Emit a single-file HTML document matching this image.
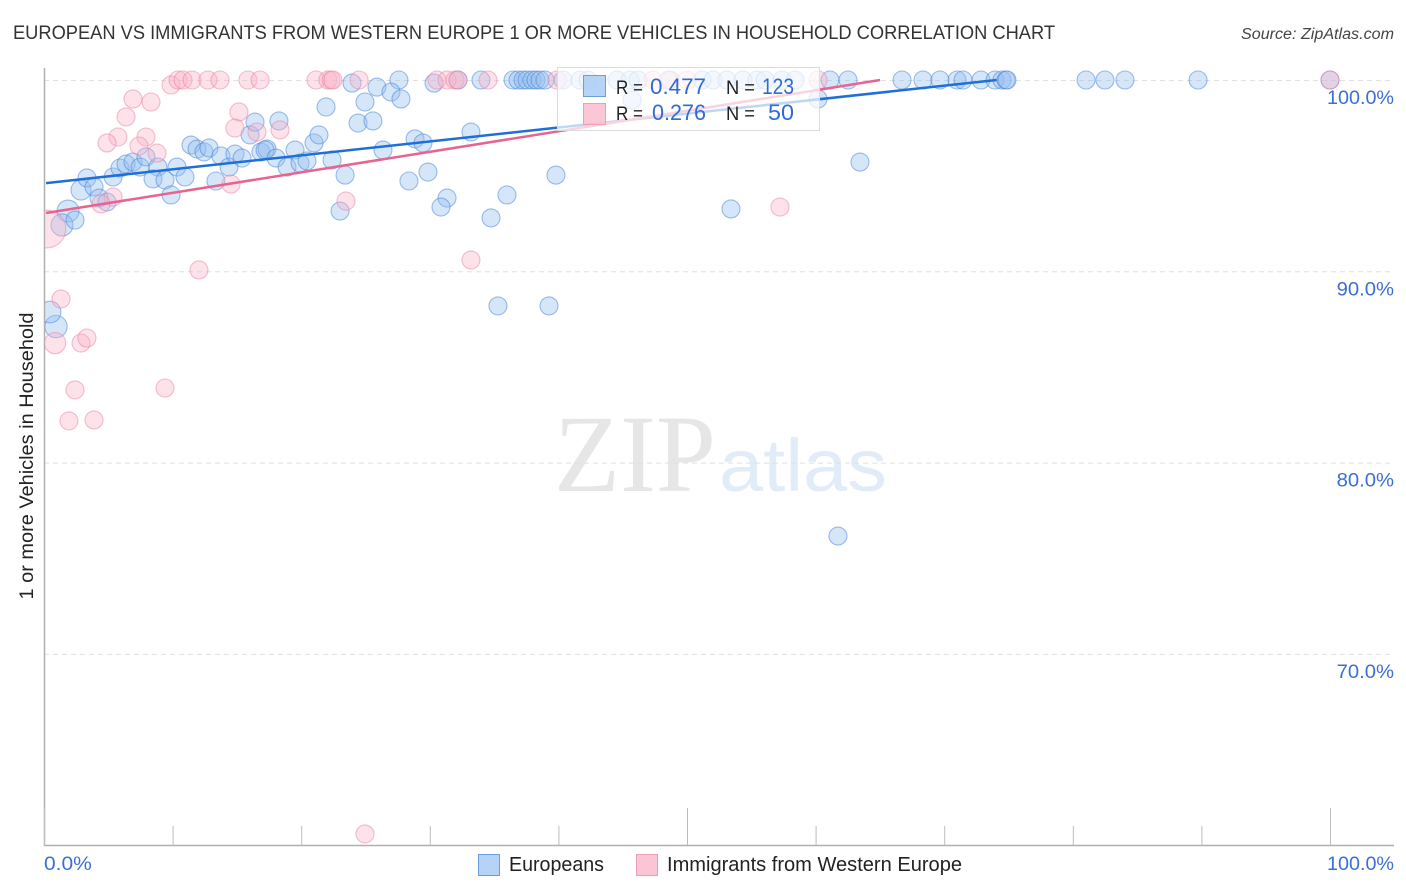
<!DOCTYPE html>
<html lang="en">
<head>
<meta charset="utf-8">
<title>European vs Immigrants from Western Europe correlation chart</title>
<style>
html,body{margin:0;padding:0;background:#fff;}
svg{display:block;font-family:"Liberation Sans",sans-serif;}
</style>
</head>
<body>
<svg id="chart" xmlns="http://www.w3.org/2000/svg" width="1406" height="892" viewBox="0 0 1406 892">
  <defs><clipPath id="plot-clip"><rect x="45" y="60" width="1359" height="785"/></clipPath></defs>
  <rect width="1406" height="892" fill="#fff"/>
  <text x="13" y="39" font-size="19" fill="#333" textLength="1042" lengthAdjust="spacingAndGlyphs">EUROPEAN VS IMMIGRANTS FROM WESTERN EUROPE 1 OR MORE VEHICLES IN HOUSEHOLD CORRELATION CHART</text>
  <text x="1241" y="39" font-size="15.5" font-style="italic" fill="#444" textLength="153" lengthAdjust="spacingAndGlyphs">Source: ZipAtlas.com</text>
  <g id="watermark">
    <text x="554" y="491" font-family="'Liberation Serif',serif" font-size="110" fill="#e6e6e6" textLength="162" lengthAdjust="spacingAndGlyphs">ZIP</text>
    <text x="719" y="491" font-size="74" fill="#e2ecf9" textLength="168" lengthAdjust="spacingAndGlyphs">atlas</text>
  </g>
  <g id="grid"></g>
  <g id="axes"></g>
  <g id="points" clip-path="url(#plot-clip)"></g>
  <g id="trends"></g>
  <g>
    <rect x="557.5" y="67.5" width="262" height="63" fill="#fff" fill-opacity="0.72" stroke="#dcdcdc" stroke-width="1"/>
    <rect x="583.5" y="75.5" width="22" height="21" fill="#a9cdf5" fill-opacity="0.85" stroke="#6b9fdc"/>
    <rect x="583.5" y="103.5" width="22" height="21" fill="#fbc0d2" fill-opacity="0.9" stroke="#eba0b8"/>
    <text x="616" y="94" font-size="19" fill="#222" textLength="27" lengthAdjust="spacingAndGlyphs">R =</text>
    <text x="650" y="94" font-size="22" fill="#2f6bd0" textLength="56" lengthAdjust="spacingAndGlyphs">0.477</text>
    <text x="726" y="94" font-size="19" fill="#222" textLength="29" lengthAdjust="spacingAndGlyphs">N =</text>
    <text x="762" y="94" font-size="22" fill="#2f6bd0" textLength="32" lengthAdjust="spacingAndGlyphs">123</text>
    <text x="616" y="120" font-size="19" fill="#222" textLength="27" lengthAdjust="spacingAndGlyphs">R =</text>
    <text x="652" y="120" font-size="22" fill="#2f6bd0" textLength="54" lengthAdjust="spacingAndGlyphs">0.276</text>
    <text x="726" y="120" font-size="19" fill="#222" textLength="29" lengthAdjust="spacingAndGlyphs">N =</text>
    <text x="768" y="120" font-size="22" fill="#2f6bd0" textLength="26" lengthAdjust="spacingAndGlyphs">50</text>
  </g>
  <text transform="translate(33,456) rotate(-90)" font-size="19" fill="#222" text-anchor="middle" textLength="287" lengthAdjust="spacingAndGlyphs">1 or more Vehicles in Household</text>
  <g>
    <rect x="478.5" y="854.5" width="21" height="21" fill="#b4d3f7" stroke="#6b9fdc"/>
    <text x="509" y="871" font-size="20" fill="#222" textLength="95" lengthAdjust="spacingAndGlyphs">Europeans</text>
    <rect x="636.5" y="854.5" width="21" height="21" fill="#fcc5d6" stroke="#eba0b8"/>
    <text x="667" y="871" font-size="20" fill="#222" textLength="295" lengthAdjust="spacingAndGlyphs">Immigrants from Western Europe</text>
  </g>
</svg>
<script>
const xTickValues = [0,10,20,30,40,50,60,70,80,90,100];
const xMajorTickValues = [0,50,100];
const xTickLabelValues = [0,100];
const xTickLabels = ["0.0%","100.0%"];
const yTickValues = [100,90,80,70];
const yTickLabels = ["100.0%","90.0%","80.0%","70.0%"];

const blueX = [0.93,1.87,1.40,2.88,0.47,3.34,3.89,4.28,4.90,2.41,5.37,5.91,6.38,6.92,7.47,7.93,8.86,8.48,9.41,9.88,10.34,10.96,11.43,11.90,12.44,12.83,13.37,13.76,14.39,14.85,15.40,16.02,16.41,16.87,17.34,17.19,18.04,18.27,18.90,19.52,19.91,20.45,21.00,21.38,22.40,23.41,23.02,21.93,23.95,25.89,24.96,27.60,26.98,27.76,24.42,25.58,26.36,28.85,29.47,28.38,29.86,31.34,30.87,30.33,32.19,33.20,34.76,36.00,39.81,35.30,39.27,53.42,63.45,61.74,60.19,45.72,33.98,36.47,36.86,37.25,37.56,37.95,38.26,38.57,38.96,40.36,41.68,42.30,44.56,45.57,46.19,48.68,51.17,52.02,53.11,54.36,55.44,56.07,57.39,58.40,61.12,62.52,66.72,68.35,69.67,71.00,71.46,72.86,73.95,74.49,74.81,74.88,81.03,82.50,84.06,89.74,100];
const blueY = [87.11,93.15,92.42,94.25,87.87,94.88,94.41,93.83,93.62,92.68,94.93,95.40,95.61,95.71,95.45,95.98,95.45,94.83,94.77,93.99,95.45,94.93,96.60,96.39,96.24,96.45,94.72,96.03,95.45,96.13,95.92,97.13,97.80,96.24,96.39,96.34,95.92,97.86,95.45,96.34,95.66,95.77,96.71,97.13,95.82,95.03,93.15,98.59,99.84,99.63,98.85,100,99.37,99.01,97.75,97.86,96.34,96.92,96.71,94.72,95.19,93.83,93.36,99.84,100,97.28,92.79,93.99,95.03,88.19,88.19,93.26,95.71,76.16,99.01,98.95,100,100,100,100,100,100,100,100,100,100,100,100,100,100,100,100,100,100,100,100,100,100,100,100,100,100,100,100,100,100,100,100,100,100,100,100,100,100,100,100,100];
const blueWeights = [1.55,1.5,1.5,1.25,1.45];

const pinkX = [0.23,0.86,9.88,10.42,10.81,11.51,12.75,13.69,15.86,16.80,21.15,22.08,22.32,22.47,24.50,30.56,31.34,31.96,32.19,34.53,39.89,47.36,48.52,50.00,60.19,100,6.92,8.32,6.38,5.75,4.90,7.93,7.39,8.79,5.37,4.43,14.54,15.16,14.85,16.56,18.35,23.48,12.05,1.32,2.88,3.34,33.20,2.41,1.94,3.89,9.41,24.96,57.23];
const pinkY = [92.21,86.25,99.74,100,100,100,100,100,100,100,100,100,100,100,100,100,100,100,100,100,100,100,100,100,100,100,99.01,98.85,98.07,97.02,96.71,97.02,96.55,96.18,93.88,93.52,94.56,98.33,97.49,97.28,97.39,93.67,90.07,88.55,86.25,86.51,90.59,83.80,82.18,82.23,83.90,60.59,93.36];
const pinkWeights = [4.4,1.4];

const blueTrendIntercept = 94.6;
const blueTrendSlope = 0.0729;
const pinkTrendIntercept = 93.03;
const pinkTrendSlope = 0.1072;

const NS = 'http://www.w3.org/2000/svg';
const xScale = v => 44 + v * 12.86;
const yScale = v => 80 + (100 - v) * 19.13;
const baseRadius = 9;
const radiusOf = w => baseRadius * Math.sqrt(w);
const labelWidth = s => 9.6 * s.length + 9.4;

function make(tag, attrs, parent, text) {
  const el = document.createElementNS(NS, tag);
  for (const k in attrs) el.setAttribute(k, attrs[k]);
  if (text !== undefined) el.textContent = text;
  parent.appendChild(el);
  return el;
}

const gridGroup = document.getElementById('grid');
const axesGroup = document.getElementById('axes');
const pointsGroup = document.getElementById('points');
const trendsGroup = document.getElementById('trends');
const axisBottom = 845;

yTickValues.forEach((v, i) => {
  const line = make('line', {x1: 44, x2: 1394, y1: yScale(v) + 0.5, y2: yScale(v) + 0.5, stroke: '#e0e0e0', 'stroke-width': 1, 'stroke-dasharray': '5 4'}, gridGroup);
  
  
  const w = labelWidth(yTickLabels[i]);
  const label = make('text', {x: 1394 - w, y: yScale(v) + 24, 'font-size': 19, fill: '#3b6fd4', textLength: w, lengthAdjust: 'spacingAndGlyphs'}, axesGroup, yTickLabels[i]);
  
  
});

const yAxisLine = make('line', {x1: 44.5, x2: 44.5, y1: 68, y2: axisBottom + 1, stroke: '#b0b0b0', 'stroke-width': 1.5}, axesGroup);


const xAxisLine = make('line', {x1: 44, x2: 1394, y1: axisBottom + 0.5, y2: axisBottom + 0.5, stroke: '#b0b0b0', 'stroke-width': 1.5}, axesGroup);



xTickValues.forEach(v => {
  const top = xMajorTickValues.includes(v) ? 808 : 826;
  const tick = make('line', {x1: xScale(v) + 0.5, x2: xScale(v) + 0.5, y1: top, y2: axisBottom, stroke: '#bdbdbd', 'stroke-width': 1}, axesGroup);
  
  
});
xTickLabelValues.forEach((v, i) => {
  const w = labelWidth(xTickLabels[i]);
  const px = v === 0 ? xScale(v) : 1394 - w;
  const label = make('text', {x: px, y: 870, 'font-size': 19, fill: '#3b6fd4', textLength: w, lengthAdjust: 'spacingAndGlyphs'}, axesGroup, xTickLabels[i]);
  
  
});

blueX.forEach((v, i) => {
  const c = make('circle', {cx: xScale(v), cy: yScale(blueY[i]), r: radiusOf(blueWeights[i] || 1), fill: '#93bef0', 'fill-opacity': 0.38, stroke: '#3f7fd8', 'stroke-opacity': 0.5, 'stroke-width': 1.1}, pointsGroup);
  
  
});
pinkX.forEach((v, i) => {
  const c = make('circle', {cx: xScale(v), cy: yScale(pinkY[i]), r: radiusOf(pinkWeights[i] || 1), fill: '#f9b3c8', 'fill-opacity': 0.38, stroke: '#e87fa2', 'stroke-opacity': 0.5, 'stroke-width': 1.1}, pointsGroup);
  
  
});

function trendPath(intercept, slope) {
  const startX = 0.16;
  const capX = (100 - intercept) / slope;
  const endX = Math.min(capX, 100);
  return 'M' + xScale(startX) + ' ' + yScale(intercept + slope * startX) + ' L' + xScale(endX) + ' ' + yScale(intercept + slope * endX);
}
const blueTrend = make('path', {d: trendPath(blueTrendIntercept, blueTrendSlope), stroke: '#1f6fd8', 'stroke-width': 2.5, fill: 'none'}, trendsGroup);


const pinkTrend = make('path', {d: trendPath(pinkTrendIntercept, pinkTrendSlope), stroke: '#e8638f', 'stroke-width': 2.5, fill: 'none'}, trendsGroup);


</script>
</body>
</html>
